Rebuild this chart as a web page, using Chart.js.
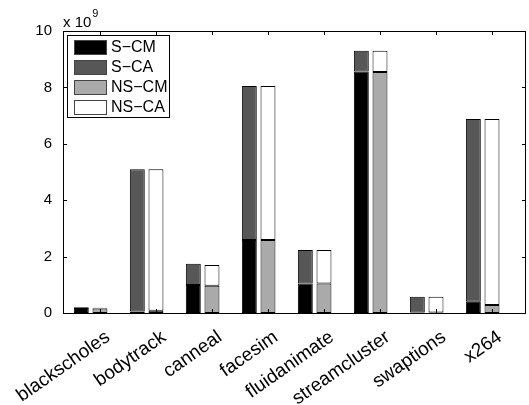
<!DOCTYPE html>
<html>
<head>
<meta charset="utf-8">
<script src="https://cdn.jsdelivr.net/npm/chart.js@4/dist/chart.umd.min.js"></script>
<style>
  html, body { margin: 0; padding: 0; background: #fff; }
  #wrap { width: 529px; height: 405px; position: relative; }
</style>
</head>
<body>
<div id="wrap"><canvas id="chart" width="529" height="405"></canvas></div>
<script>
const categories = ["blackscholes", "bodytrack", "canneal", "facesim", "fluidanimate", "streamcluster", "swaptions", "x264"];

// values in units of 10^9
const sCM  = [0.18, 0.05, 0.99, 2.59, 1.05, 8.56, 0.02, 0.40];
const sCA  = [0.02, 5.05, 0.76, 5.46, 1.18, 0.74, 0.56, 6.48];
const nsCM = [0.16, 0.08, 0.97, 2.59, 1.05, 8.55, 0.02, 0.28];
const nsCA = [0.03, 5.02, 0.73, 5.46, 1.18, 0.75, 0.56, 6.60];

const yTicks = [0, 2, 4, 6, 8, 10];
const FONT = "'Liberation Sans', Arial, sans-serif";

function pts(arr) {
    return arr.map((v, i) => ({ x: i + 1, y: v }));
}

const frame = {
    id: "frame",
    afterDatasetsDraw(c) {
        const ctx = c.ctx;
        const a = c.chartArea;
        const xs = c.scales.x, ys = c.scales.y;
        ctx.save();
        ctx.strokeStyle = "#000";
        ctx.lineWidth = 1;
        ctx.strokeRect(Math.round(a.left) + 0.5, Math.round(a.top) + 0.5,
            Math.round(a.right - a.left) - 1, Math.round(a.bottom - a.top));
        ctx.beginPath();
        const tl = 4;
        yTicks.forEach(v => {
            const y = Math.round(ys.getPixelForValue(v)) + 0.5;
            ctx.moveTo(a.left, y); ctx.lineTo(a.left + tl, y);
            ctx.moveTo(a.right, y); ctx.lineTo(a.right - tl, y);
        });
        categories.forEach((_, i) => {
            const x = Math.round(xs.getPixelForValue(i + 1)) + 0.5;
            ctx.moveTo(x, a.bottom); ctx.lineTo(x, a.bottom - tl);
            ctx.moveTo(x, a.top); ctx.lineTo(x, a.top + tl);
        });
        ctx.stroke();

        // exponent
        ctx.fillStyle = "#000";
        ctx.textBaseline = "alphabetic";
        ctx.textAlign = "left";
        ctx.font = "15px " + FONT;
        ctx.fillText("x 10", a.left, 27);
        const w = ctx.measureText("x 10").width;
        ctx.font = "11px " + FONT;
        ctx.fillText("9", a.left + w + 1, 17);

        // legend
        const lx = 67, ly = 35, lw = 102, lh = 82;
        ctx.fillStyle = "#fff";
        ctx.fillRect(lx, ly, lw, lh);
        ctx.strokeRect(lx + 0.5, ly + 0.5, lw, lh);
        ctx.font = "16px " + FONT;
        ctx.textBaseline = "middle";
        c.data.datasets.filter(d => d.label).forEach((d, i) => {
            const cy = ly + 12 + i * 20;
            ctx.fillStyle = d.backgroundColor;
            ctx.fillRect(lx + 7, cy - 7, 33, 15);
            ctx.strokeStyle = "#444";
            ctx.strokeRect(lx + 7.5, cy - 6.5, 32, 14);
            ctx.fillStyle = "#000";
            ctx.fillText(d.label, lx + 44, cy + 1);
        });
        ctx.restore();
    }
};

const common = { borderColor: "#000", borderWidth: 1, borderSkipped: false, barPercentage: 0.8, categoryPercentage: 1.0 };

new Chart(document.getElementById("chart").getContext("2d"), {
    type: "bar",
    data: {
        datasets: [
            Object.assign({ label: "S\u2212CM", data: pts(sCM), backgroundColor: "#000000", stack: "S" }, common),
            Object.assign({ label: "S\u2212CA", data: pts(sCA), backgroundColor: "#575757", stack: "S" }, common),
            Object.assign({ label: "NS\u2212CM", data: pts(nsCM), backgroundColor: "#aaaaaa", stack: "NS" }, common),
            Object.assign({ label: "NS\u2212CA", data: pts(nsCA), backgroundColor: "#ffffff", stack: "NS" }, common),
            Object.assign({ label: "", data: pts(categories.map(() => 0)), backgroundColor: "rgba(0,0,0,0)", stack: "E" }, common, { borderWidth: 0 })
        ]
    },
    options: {
        responsive: false,
        animation: false,
        layout: { padding: { top: 31, right: 3, left: 0, bottom: 0 } },
        plugins: { legend: { display: false }, tooltip: { enabled: false } },
        scales: {
            x: {
                type: "linear",
                stacked: true,
                offset: false,
                min: 0.34,
                max: 8.607,
                grid: { display: false },
                border: { display: false },
                afterBuildTicks: s => { s.ticks = categories.map((_, i) => ({ value: i + 1 })); },
                afterFit: s => { s.height = 92; },
                ticks: {
                    color: "#000",
                    font: { family: FONT, size: 19 },
                    minRotation: 35,
                    maxRotation: 35,
                    autoSkip: false,
                    padding: 5,
                    labelOffset: 8,
                    callback: v => categories[v - 1] || ""
                }
            },
            y: {
                stacked: true,
                min: 0,
                max: 10,
                grid: { display: false },
                border: { display: false },
                afterBuildTicks: s => { s.ticks = yTicks.map(v => ({ value: v })); },
                afterFit: s => { s.width = 63; },
                ticks: {
                    color: "#000",
                    font: { family: FONT, size: 15 },
                    padding: 3
                }
            }
        }
    },
    plugins: [frame]
});
</script>
</body>
</html>
